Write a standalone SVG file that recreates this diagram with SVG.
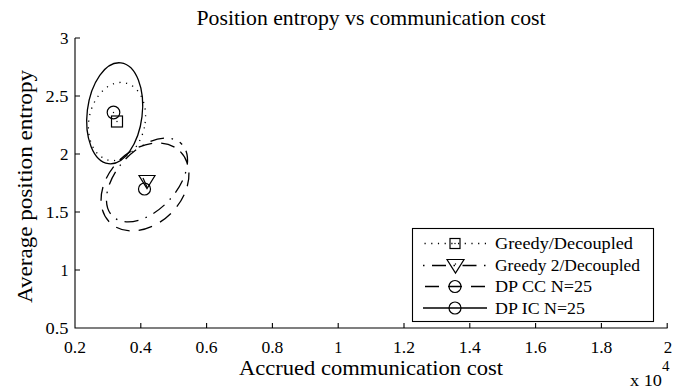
<svg xmlns="http://www.w3.org/2000/svg" width="684" height="388" viewBox="0 0 684 388">
<style>
text{font-family:"Liberation Serif","Times New Roman",serif;fill:#000}
.tick{font-size:17px}
.leg{font-size:17.5px}
.ax{stroke:#000;stroke-width:1.1;fill:none}
.s{fill:none;stroke:#000;stroke-width:1.3}
.dot{stroke-dasharray:1.2 5.5;stroke-linecap:butt}
.dd{stroke-dasharray:1.5 7.5 14 7.5}
.da{stroke-dasharray:14 9}
.mk{fill:none;stroke:#000;stroke-width:1.2}
</style>
<rect width="684" height="388" fill="#fff"/>
<g id="title"><text x="371" y="25" font-size="21" text-anchor="middle" textLength="349" lengthAdjust="spacingAndGlyphs">Position entropy vs communication cost</text></g>
<g id="axes">
<path class="ax" d="M75,38V328H667.6"/>
<path class="ax" d="M140.8,328v-5M206.6,328v-5M272.4,328v-5M338.2,328v-5M404,328v-5M469.8,328v-5M535.6,328v-5M601.4,328v-5M667.2,328v-5"/>
<path class="ax" d="M75,38h5M75,96h5M75,154h5M75,212h5M75,270h5"/>
<g class="tick" text-anchor="middle">
<text x="75" y="352.5" textLength="22" lengthAdjust="spacingAndGlyphs">0.2</text>
<text x="140.8" y="352.5" textLength="22" lengthAdjust="spacingAndGlyphs">0.4</text>
<text x="206.6" y="352.5" textLength="22" lengthAdjust="spacingAndGlyphs">0.6</text>
<text x="272.4" y="352.5" textLength="22" lengthAdjust="spacingAndGlyphs">0.8</text>
<text x="338.2" y="352.5" textLength="8" lengthAdjust="spacingAndGlyphs">1</text>
<text x="404" y="352.5" textLength="22" lengthAdjust="spacingAndGlyphs">1.2</text>
<text x="469.8" y="352.5" textLength="22" lengthAdjust="spacingAndGlyphs">1.4</text>
<text x="535.6" y="352.5" textLength="22" lengthAdjust="spacingAndGlyphs">1.6</text>
<text x="601.4" y="352.5" textLength="22" lengthAdjust="spacingAndGlyphs">1.8</text>
<text x="668" y="352.5" textLength="8.5" lengthAdjust="spacingAndGlyphs">2</text>
</g>
<g class="tick" text-anchor="end">
<text x="68.5" y="333.5" textLength="23" lengthAdjust="spacingAndGlyphs">0.5</text>
<text x="68.5" y="275.5" textLength="8" lengthAdjust="spacingAndGlyphs">1</text>
<text x="68.5" y="217.5" textLength="23" lengthAdjust="spacingAndGlyphs">1.5</text>
<text x="68.5" y="159.5" textLength="8.5" lengthAdjust="spacingAndGlyphs">2</text>
<text x="68.5" y="101.5" textLength="23" lengthAdjust="spacingAndGlyphs">2.5</text>
<text x="68.5" y="43.5" textLength="8.5" lengthAdjust="spacingAndGlyphs">3</text>
</g>
<text x="371" y="375" font-size="22" text-anchor="middle" textLength="264" lengthAdjust="spacingAndGlyphs">Accrued communication cost</text>
<text transform="translate(32,186.5) rotate(-90)" font-size="22" text-anchor="middle" textLength="233" lengthAdjust="spacingAndGlyphs">Average position entropy</text>
<text x="630" y="385.5" font-size="17" textLength="32" lengthAdjust="spacingAndGlyphs">x 10</text>
<text x="662" y="370.5" font-size="15">4</text>
</g>
<g id="series">
<ellipse class="s dot" cx="117" cy="121.5" rx="28" ry="39.5" transform="rotate(12 117 121.5)"/>
<ellipse class="s" cx="114.7" cy="113.3" rx="27.5" ry="50.8" transform="rotate(7 114.7 113.3)"/>
<ellipse class="s dd" cx="147" cy="180" rx="50" ry="30" transform="rotate(-47 147 180)"/>
<ellipse class="s da" cx="145" cy="187" rx="50" ry="37" transform="rotate(-45 145 187)"/>
<rect class="mk" x="111.5" y="116" width="11" height="11"/>
<circle class="mk" cx="113.5" cy="112.5" r="6.3"/>
<circle cx="113.5" cy="112.5" r="0.7"/>
<circle cx="117" cy="121.5" r="0.7"/>
<path class="mk" d="M139,175.5H155L147,188.5Z"/>
<circle class="mk" cx="144.5" cy="189" r="6"/>
<path class="mk" d="M143,178L147,187"/>
</g>
<g id="legend">
<rect x="412.5" y="228.5" width="241" height="93" fill="#fff" stroke="#000" stroke-width="1.1"/>
<path class="s dot" d="M424.5,243.5H487"/>
<rect class="mk" x="450" y="238.5" width="10" height="10" fill="#fff"/>
<circle cx="455" cy="243.5" r="0.7"/>
<path class="s dd" d="M423,265.5H489"/>
<path class="mk" d="M447,259.5H464L455.5,273Z" fill="#fff"/>
<circle cx="455.5" cy="264" r="0.7"/>
<path class="s da" d="M425,286.5H487"/>
<circle class="mk" cx="455" cy="286.5" r="6"/>
<path class="s" d="M423,308H487"/>
<circle class="mk" cx="455" cy="308" r="6"/>
<g class="leg">
<text x="495" y="249" textLength="138" lengthAdjust="spacingAndGlyphs">Greedy/Decoupled</text>
<text x="495" y="270.5" textLength="145" lengthAdjust="spacingAndGlyphs">Greedy 2/Decoupled</text>
<text x="495" y="292" textLength="97" lengthAdjust="spacingAndGlyphs">DP CC N=25</text>
<text x="495" y="313.5" textLength="90" lengthAdjust="spacingAndGlyphs">DP IC N=25</text>
</g>
</g>
</svg>
